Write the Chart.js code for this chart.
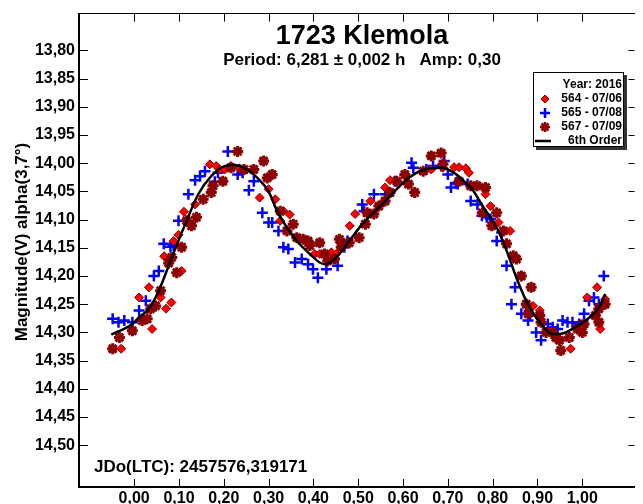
<!DOCTYPE html>
<html lang="en">
<head>
<meta charset="UTF-8">
<title>1723 Klemola</title>
<script src="https://cdn.jsdelivr.net/npm/chart.js"></script>
<style>
  html, body { margin: 0; padding: 0; background: #fff; }
  #wrap { position: relative; width: 643px; height: 504px; }
</style>
</head>
<body>
<div id="wrap"><canvas id="lc"></canvas></div>
<script>
// tick values
const xTicks = [0, 0.1, 0.2, 0.3, 0.4, 0.5, 0.6, 0.7, 0.8, 0.9, 1.0];
const yTicks = [13.80, 13.85, 13.90, 13.95, 14.00, 14.05, 14.10, 14.15, 14.20, 14.25, 14.30, 14.35, 14.40, 14.45, 14.50];

// 564 - 07/06 (red diamonds)
const redX = [-0.029,0.011,0.033,0.040,0.059,0.071,0.083,0.067,0.088,0.099,0.106,0.111,0.136,0.169,0.183,0.191,0.202,0.216,0.235,0.280,0.300,0.315,0.326,0.333,0.347,0.403,0.414,0.440,0.451,0.481,0.493,0.527,0.560,0.571,0.663,0.689,0.714,0.725,0.740,0.747,0.784,0.795,0.813,0.839,0.890,0.905,0.974,1.011,1.033,1.040,1.051];
const redY = [14.329,14.238,14.220,14.294,14.238,14.258,14.247,14.165,14.138,14.127,14.191,14.086,14.073,14.002,14.005,14.011,14.011,14.005,14.009,14.061,14.046,14.064,14.102,14.085,14.091,14.161,14.161,14.158,14.161,14.111,14.090,14.067,14.043,14.030,14.011,14.008,14.007,14.007,14.009,14.017,14.055,14.076,14.105,14.120,14.253,14.261,14.329,14.238,14.220,14.294,14.241];

// 565 - 07/08 (blue crosses)
const blueX = [-0.048,-0.035,-0.022,-0.004,0.011,0.026,0.044,0.055,0.066,0.081,0.088,0.099,0.121,0.136,0.147,0.158,0.180,0.187,0.209,0.231,0.242,0.256,0.267,0.286,0.300,0.308,0.322,0.333,0.344,0.359,0.374,0.388,0.399,0.410,0.429,0.454,0.469,0.476,0.509,0.513,0.535,0.560,0.582,0.619,0.623,0.652,0.667,0.685,0.692,0.700,0.707,0.718,0.722,0.744,0.751,0.766,0.776,0.787,0.795,0.809,0.820,0.831,0.850,0.842,0.864,0.879,0.883,0.897,0.908,0.923,0.934,0.945,0.956,0.967,0.978,0.993,1.004,1.015,1.026,1.037,1.048];
const blueY = [14.276,14.282,14.279,14.282,14.261,14.244,14.200,14.191,14.143,14.148,14.146,14.102,14.055,14.030,14.023,14.014,14.033,14.017,13.979,14.020,14.017,14.048,14.032,14.088,14.105,14.105,14.120,14.149,14.152,14.176,14.170,14.179,14.188,14.203,14.188,14.182,14.149,14.138,14.073,14.085,14.055,14.055,14.032,13.999,14.008,14.011,14.005,14.005,13.996,14.020,14.043,14.035,14.037,14.037,14.067,14.073,14.093,14.096,14.099,14.138,14.123,14.182,14.220,14.250,14.267,14.279,14.270,14.300,14.314,14.285,14.291,14.294,14.279,14.282,14.282,14.285,14.267,14.244,14.238,14.250,14.200];

// 567 - 07/09 (dark red stars)
const starX = [-0.048,-0.033,-0.004,0.018,0.029,0.037,0.048,0.059,0.077,0.084,0.095,0.106,0.117,0.128,0.139,0.154,0.172,0.176,0.198,0.216,0.231,0.245,0.267,0.289,0.297,0.308,0.326,0.341,0.355,0.363,0.377,0.388,0.392,0.414,0.425,0.432,0.447,0.458,0.462,0.480,0.502,0.516,0.520,0.535,0.546,0.560,0.571,0.586,0.604,0.612,0.626,0.645,0.663,0.685,0.689,0.725,0.751,0.765,0.784,0.777,0.809,0.798,0.824,0.831,0.846,0.853,0.864,0.886,0.875,0.879,0.905,0.908,0.919,0.934,0.941,0.949,0.952,0.971,0.989,1.000,1.004,1.029,1.037,1.037,1.051];
const starY = [14.329,14.309,14.297,14.279,14.276,14.258,14.253,14.226,14.177,14.167,14.194,14.149,14.102,14.111,14.096,14.064,14.052,14.040,14.032,14.008,13.979,14.011,14.011,13.996,14.026,14.020,14.085,14.120,14.108,14.132,14.135,14.138,14.146,14.141,14.161,14.173,14.170,14.135,14.149,14.141,14.132,14.108,14.088,14.090,14.076,14.067,14.052,14.032,14.020,14.037,14.052,14.014,13.987,13.982,14.002,14.032,14.040,14.040,14.043,14.088,14.088,14.111,14.120,14.143,14.164,14.170,14.200,14.220,14.250,14.267,14.270,14.282,14.300,14.300,14.309,14.314,14.332,14.309,14.294,14.300,14.285,14.270,14.282,14.258,14.250];

// 6th order fit
const fitX = [-0.051,-0.004,0.011,0.033,0.055,0.084,0.114,0.143,0.172,0.202,0.224,0.245,0.275,0.300,0.319,0.341,0.363,0.392,0.414,0.429,0.451,0.480,0.509,0.538,0.575,0.612,0.648,0.685,0.714,0.740,0.755,0.780,0.809,0.831,0.853,0.875,0.905,0.934,0.949,0.971,1.007,1.037,1.051];
const fitY = [14.304,14.285,14.273,14.258,14.226,14.167,14.108,14.055,14.023,14.005,14.003,14.008,14.026,14.050,14.085,14.114,14.138,14.161,14.176,14.179,14.167,14.138,14.108,14.085,14.055,14.026,14.011,14.008,14.017,14.035,14.047,14.079,14.114,14.155,14.203,14.244,14.282,14.303,14.303,14.297,14.279,14.256,14.232];

const FONT = '"Liberation Sans", Arial, sans-serif';
const pts = (xs, ys) => xs.map((x, i) => ({ x: x, y: ys[i] }));
const fmt = v => v.toFixed(2).replace('.', ',');

// inward tick marks, titles and the boxed legend
const decor = {
    id: 'decor',
    afterDraw(chart) {
        const ctx = chart.ctx;
        const a = chart.chartArea;
        const sx = chart.scales.x, sy = chart.scales.y;
        ctx.save();
        ctx.strokeStyle = '#000';
        ctx.lineWidth = 1;
        ctx.beginPath();
        xTicks.forEach(v => {
            const px = Math.round(sx.getPixelForValue(v)) + 0.5;
            ctx.moveTo(px, a.bottom); ctx.lineTo(px, a.bottom - 8);
            ctx.moveTo(px, a.top); ctx.lineTo(px, a.top + 8);
        });
        yTicks.forEach(v => {
            const py = Math.round(sy.getPixelForValue(v)) + 0.5;
            ctx.moveTo(a.left, py); ctx.lineTo(a.left + 9, py);
            ctx.moveTo(a.right, py); ctx.lineTo(a.right - 6, py);
        });
        ctx.stroke();

        ctx.fillStyle = '#000';
        ctx.textAlign = 'center';
        ctx.textBaseline = 'middle';
        ctx.font = 'bold 27px ' + FONT;
        ctx.fillText('1723 Klemola', 362, 37);
        ctx.font = 'bold 17px ' + FONT;
        ctx.fillText('Period: 6,281 \u00b1 0,002 h   Amp: 0,30', 362, 60);

        ctx.textAlign = 'left';
        ctx.fillText('JDo(LTC): 2457576,319171', 94, 467);

        ctx.save();
        ctx.translate(22, 242);
        ctx.rotate(-Math.PI / 2);
        ctx.textAlign = 'center';
        ctx.font = 'bold 17px ' + FONT;
        ctx.fillText('Magnitude(V) alpha(3,7\u00b0)', 0, 0);
        ctx.restore();

        // legend box with shadow
        ctx.fillStyle = '#333';
        ctx.fillRect(536, 75, 91, 75);
        ctx.fillStyle = '#fff';
        ctx.fillRect(533, 72, 91, 75);
        ctx.strokeStyle = '#000';
        ctx.strokeRect(533.5, 72.5, 90, 74);

        ctx.font = 'bold 12px ' + FONT;
        ctx.textAlign = 'right';
        ctx.fillStyle = '#000';
        const rows = ['Year: 2016', '564 - 07/06', '565 - 07/08', '567 - 07/09', '6th Order'];
        rows.forEach((t, i) => ctx.fillText(t, 622, 85 + i * 14));

        // diamond
        ctx.fillStyle = '#ff0000';
        ctx.strokeStyle = '#8b0000';
        ctx.beginPath();
        ctx.moveTo(545, 95); ctx.lineTo(549, 99); ctx.lineTo(545, 103); ctx.lineTo(541, 99); ctx.closePath();
        ctx.fill(); ctx.stroke();
        // cross
        ctx.strokeStyle = '#0000ff';
        ctx.lineWidth = 2.5;
        ctx.beginPath();
        ctx.moveTo(540, 113); ctx.lineTo(550, 113);
        ctx.moveTo(545, 108); ctx.lineTo(545, 118);
        ctx.stroke();
        // star
        ctx.strokeStyle = '#8b0000';
        ctx.beginPath();
        ctx.moveTo(540, 127); ctx.lineTo(550, 127);
        ctx.moveTo(545, 122); ctx.lineTo(545, 132);
        ctx.moveTo(541.5, 123.5); ctx.lineTo(548.5, 130.5);
        ctx.moveTo(548.5, 123.5); ctx.lineTo(541.5, 130.5);
        ctx.stroke();
        // line
        ctx.strokeStyle = '#000';
        ctx.lineWidth = 2.5;
        ctx.beginPath();
        ctx.moveTo(535, 141); ctx.lineTo(551, 141);
        ctx.stroke();
        ctx.restore();
    }
};

const ctx = document.getElementById('lc').getContext('2d');
new Chart(ctx, {
    type: 'scatter',
    data: {
        datasets: [
            {
                label: '6th Order',
                data: pts(fitX, fitY),
                showLine: true,
                borderColor: '#000',
                borderWidth: 2.5,
                pointRadius: 0,
                cubicInterpolationMode: 'monotone',
                order: 0
            },
            {
                label: '567 - 07/09',
                data: pts(starX, starY),
                pointStyle: 'star',
                pointRadius: 5.5,
                borderWidth: 3,
                borderColor: '#8b0000',
                backgroundColor: '#8b0000',
                order: 1
            },
            {
                label: '564 - 07/06',
                data: pts(redX, redY),
                pointStyle: 'rectRot',
                pointRadius: 4.5,
                borderWidth: 1,
                borderColor: '#8b0000',
                backgroundColor: '#ff0000',
                order: 2
            },
            {
                label: '565 - 07/08',
                data: pts(blueX, blueY),
                pointStyle: 'cross',
                pointRadius: 5.5,
                borderWidth: 2.5,
                borderColor: '#0000ff',
                backgroundColor: '#0000ff',
                order: 3
            }
        ]
    },
    options: {
        responsive: true,
        maintainAspectRatio: false,
        animation: false,
        events: [],
        layout: { padding: 0 },
        plugins: { legend: { display: false }, tooltip: { enabled: false }, title: { display: false } },
        scales: {
            x: {
                type: 'linear', position: 'bottom', min: -0.1231, max: 1.1165,
                afterBuildTicks: s => { s.ticks = xTicks.map(v => ({ value: v })); },
                afterFit: s => { s.height = 17; },
                grid: { display: false, drawTicks: false },
                border: { display: true, color: '#000', width: 2 },
                ticks: { autoSkip: false, maxRotation: 0, padding: 2, color: '#000',
                         font: { family: FONT, size: 16, weight: 'bold' }, callback: v => fmt(v) }
            },
            x2: {
                type: 'linear', position: 'top', min: -0.1231, max: 1.1165,
                afterFit: s => { s.height = 12; },
                grid: { display: false, drawTicks: false },
                border: { display: true, color: '#000', width: 1 },
                ticks: { display: false }
            },
            y: {
                type: 'linear', position: 'left', reverse: true, min: 13.7346, max: 14.5742,
                afterBuildTicks: s => { s.ticks = yTicks.map(v => ({ value: v })); },
                afterFit: s => { s.width = 79; },
                grid: { display: false, drawTicks: false },
                border: { display: true, color: '#000', width: 2 },
                ticks: { autoSkip: false, padding: 4, color: '#000',
                         font: { family: FONT, size: 16, weight: 'bold' }, callback: v => fmt(v) }
            },
            y2: {
                type: 'linear', position: 'right', reverse: true, min: 13.7346, max: 14.5742,
                afterFit: s => { s.width = 0; },
                grid: { display: false, drawTicks: false },
                border: { display: false },
                ticks: { display: false }
            }
        }
    },
    plugins: [decor]
});
</script>
</body>
</html>
